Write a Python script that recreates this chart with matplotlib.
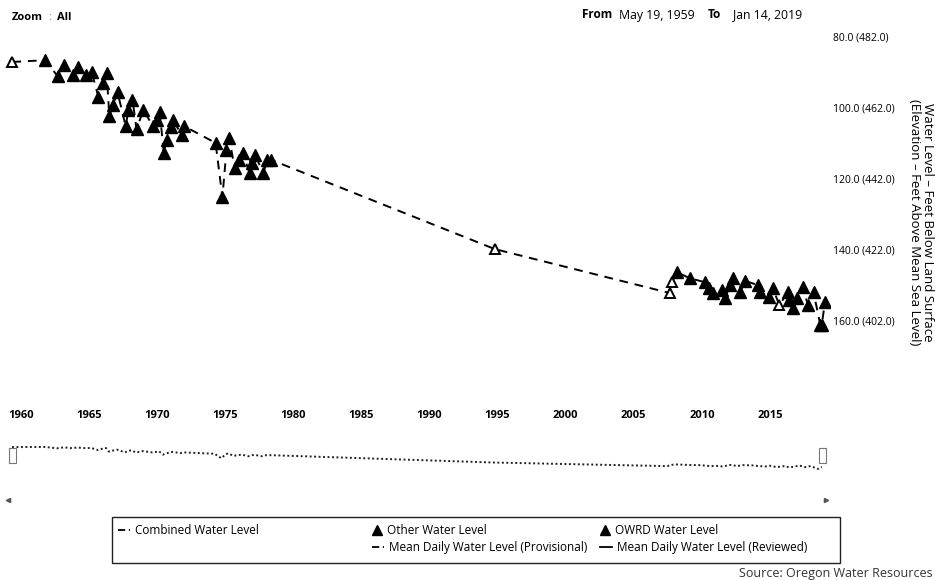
import matplotlib
matplotlib.use("Agg")
import matplotlib.pyplot as plt
from matplotlib.patches import Rectangle
from matplotlib.lines import Line2D

plt.rcParams['font.family'] = ['Open Sans', 'DejaVu Sans']

W, H = 935, 580

# ---- data (depth = feet below land surface) ----
other_years = [1961.8, 1962.7, 1963.2, 1963.8, 1964.2, 1964.8, 1965.2, 1965.7, 1966.0, 1966.3,
               1966.5, 1966.8, 1967.1, 1967.7, 1967.9, 1968.2, 1968.5, 1969.0, 1969.7, 1970.0,
               1970.2, 1970.5, 1970.7, 1971.0, 1971.2, 1971.8, 1972.0, 1974.3, 1974.8, 1975.1,
               1975.3, 1975.7, 1976.0, 1976.3, 1976.8, 1977.0, 1977.2, 1977.8, 1978.1, 1978.4,
               2008.2, 2009.1, 2010.2, 2010.5, 2010.8, 2011.5, 2011.7, 2012.1, 2012.3, 2012.8,
               2013.2, 2014.1, 2014.3, 2014.9, 2015.2, 2016.3, 2016.4, 2016.7, 2017.0, 2017.4,
               2017.8, 2018.2, 2018.7, 2018.8, 2019.04]
other_depth = [86.8, 91.3, 88.2, 91.0, 88.7, 91.0, 90.1, 97.2, 93.2, 90.4,
               102.5, 99.4, 95.8, 105.4, 100.8, 98.0, 106.2, 100.8, 105.4, 103.7,
               101.4, 113.0, 109.3, 105.6, 103.7, 107.9, 105.4, 110.1, 125.4, 112.1,
               108.7, 117.2, 114.9, 113.0, 118.6, 115.8, 113.5, 118.6, 114.9, 114.9,
               146.5, 148.2, 149.3, 151.0, 152.4, 151.5, 153.8, 150.1, 148.2, 152.1,
               149.0, 150.1, 152.1, 153.5, 151.0, 152.1, 154.4, 156.6, 153.8, 150.7,
               155.8, 152.1, 161.4, 161.4, 155.0]
owrd_years = [1959.38, 1994.8, 2007.67, 2007.8, 2015.7]
owrd_depth = [87.3, 140.0, 152.4, 149.3, 155.8]

year_ticks = [1960, 1965, 1970, 1975, 1980, 1985, 1990, 1995, 2000, 2005, 2010, 2015]
year_labels = ["1960", "1965", "1970", "1975", "1980", "1985", "1990", "1995",
               "2000", "2005", "2010", "2015"]
depth_ticks = [80, 100, 120, 140, 160]
depth_labels = ["80.0 (482.0)", "100.0 (462.0)", "120.0 (442.0)", "140.0 (422.0)", "160.0 (402.0)"]

legend_labels = ["Combined Water Level", "Other Water Level", "OWRD Water Level",
                 "Mean Daily Water Level (Provisional)", "Mean Daily Water Level (Reviewed)"]

# combined series: all measurements in time order
pairs = sorted(zip(other_years + owrd_years, other_depth + owrd_depth))
comb_years = [p[0] for p in pairs]
comb_depth = [p[1] for p in pairs]


def rect(l, t, r, b):
    return [l / W, 1 - b / H, (r - l) / W, (b - t) / H]


def fx(px):
    return px / W


def fy(py):
    return 1 - py / H


fig = plt.figure(figsize=(W / 100, H / 100), dpi=100)
fig.patch.set_facecolor('white')

# ---- main plot ----
ax = fig.add_axes(rect(5, 30, 830, 400))
ax.plot(comb_years, comb_depth, color='black', lw=1.4, ls=(0, (4.5, 3.5)), zorder=2)
ax.plot(other_years, other_depth, ls='none', marker='^', ms=8, mfc='black', mec='black',
        zorder=3)
ax.plot(owrd_years, owrd_depth, ls='none', marker='^', ms=7, mfc='white', mec='black',
        mew=1.4, zorder=4)
ax.set_xlim(1958.84, 2019.41)
ax.set_ylim(182.5, 78.3)
for s in ax.spines.values():
    s.set_visible(False)
ax.set_facecolor('none')
ax.yaxis.tick_right()
ax.set_yticks(depth_ticks, depth_labels)
ax.set_xticks(year_ticks, year_labels)
ax.tick_params(axis='y', length=0, pad=2, labelsize=7.5, colors='black')
ax.tick_params(axis='x', length=0, pad=7, labelsize=8, colors='black')
for lab in ax.get_xticklabels():
    lab.set_fontweight('bold')

fig.text(fx(921), fy(222),
         "Water Level \u2013 Feet Below Land Surface\n(Elevation \u2013 Feet Above Mean Sea Level)",
         rotation=270, ha='center', va='center', fontsize=9.5, linespacing=1.0,
         multialignment='center')

# ---- top texts ----
fig.text(fx(12), fy(18), "Zoom", fontsize=8, fontweight='bold', va='center')
fig.text(fx(48), fy(18), ":", fontsize=8, color='#888888', va='center')
fig.text(fx(57), fy(18), "All", fontsize=8, fontweight='bold', va='center')
fig.text(fx(582), fy(15), "From", fontsize=8.5, fontweight='bold', va='center')
fig.text(fx(619), fy(15), "May 19, 1959", fontsize=8.8, va='center')
fig.text(fx(708), fy(15), "To", fontsize=8.5, fontweight='bold', va='center')
fig.text(fx(733), fy(15), "Jan 14, 2019", fontsize=8.8, va='center')

# ---- navigator ----
nav = fig.add_axes(rect(12, 440, 822, 478))
nav.plot(comb_years, comb_depth, color='#222222', lw=1.4, ls=(0, (1, 1.3)))
nav.set_xlim(comb_years[0], comb_years[-1])
nav.set_ylim(193, 63)
nav.axis('off')
for xp in (12, 822):
    fig.patches.append(Rectangle((fx(xp - 3), fy(463)), 7 / W, 15 / H, transform=fig.transFigure,
                                 facecolor='white', edgecolor='#777777', lw=0.8))

# scrollbar arrows
fig.lines.append(Line2D([fx(8)], [fy(500)], marker='<', ms=3, color='#555555',
                        transform=fig.transFigure))
fig.lines.append(Line2D([fx(826)], [fy(500)], marker='>', ms=3, color='#555555',
                        transform=fig.transFigure))

# ---- legend box ----
fig.patches.append(Rectangle((fx(112), fy(563)), (840 - 112) / W, (563 - 517) / H,
                             transform=fig.transFigure, facecolor='white',
                             edgecolor='#222222', lw=1.0))
row1, row2 = 530, 547
cols = [118, 372, 600]
lfs = 8.5
# Combined
fig.lines.append(Line2D([fx(cols[0]), fx(cols[0] + 12)], [fy(row1), fy(row1)], color='black',
                        lw=1.3, ls=(0, (4, 2)), transform=fig.transFigure))
fig.text(fx(cols[0] + 17), fy(row1), legend_labels[0], fontsize=lfs, va='center')
# Other
fig.lines.append(Line2D([fx(cols[1] + 5)], [fy(row1)], marker='^', ms=6.5, color='black', ls='none',
                        transform=fig.transFigure))
fig.text(fx(cols[1] + 15), fy(row1), legend_labels[1], fontsize=lfs, va='center')
# OWRD
fig.lines.append(Line2D([fx(cols[2] + 5)], [fy(row1)], marker='^', ms=6.5, color='black', ls='none',
                        transform=fig.transFigure))
fig.text(fx(cols[2] + 15), fy(row1), legend_labels[2], fontsize=lfs, va='center')
# Provisional
fig.lines.append(Line2D([fx(cols[1]), fx(cols[1] + 12)], [fy(row2), fy(row2)], color='black',
                        lw=1.3, ls=(0, (4, 2)), transform=fig.transFigure))
fig.text(fx(cols[1] + 17), fy(row2), legend_labels[3], fontsize=lfs, va='center')
# Reviewed
fig.lines.append(Line2D([fx(cols[2]), fx(cols[2] + 12)], [fy(row2), fy(row2)], color='black',
                        lw=1.3, transform=fig.transFigure))
fig.text(fx(cols[2] + 17), fy(row2), legend_labels[4], fontsize=lfs, va='center')

fig.text(fx(933), fy(574), "Source: Oregon Water Resources", fontsize=9, ha='right',
         va='center', color='#333333')

fig.savefig("out.png", dpi=100, facecolor='white')
